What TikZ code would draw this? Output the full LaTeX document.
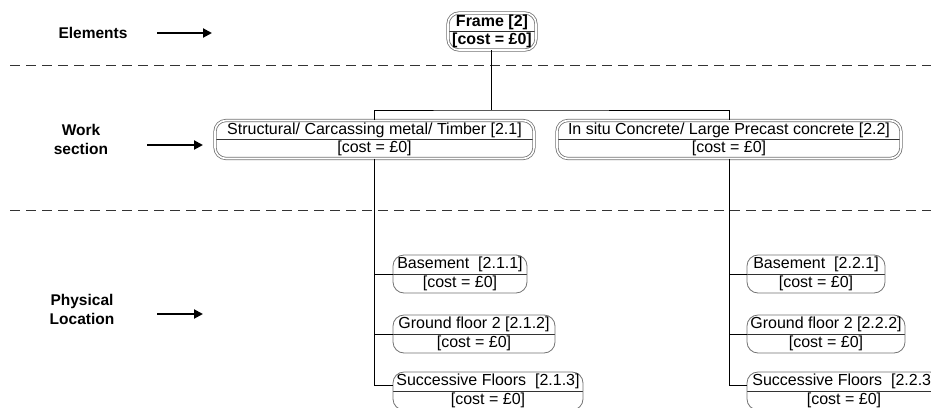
\documentclass[tikz,border=0pt]{standalone}
\usepackage{fontspec}
\setmainfont{Liberation Sans}
\usetikzlibrary{arrows.meta}
\newcommand\costtxt{{[}cost = £0{]}}
\tikzset{
  box/.style={rounded corners=11pt, draw=black!55, line width=0.8pt, inner sep=0pt,
    minimum height=38pt, align=center,
    font=\fontsize{16}{18.5}\selectfont,
    path picture={\draw[black!80, line width=0.7pt] (path picture bounding box.west) -- (path picture bounding box.east);}},
  dbox/.style={box, double, double distance=1.6pt},
  lbl/.style={font=\fontsize{15.5}{18.5}\selectfont\bfseries, align=center},
  pointer/.style={line width=2pt, -{Triangle[length=9pt,width=9pt]}},
  sep/.style={black!80, line width=0.9pt, dash pattern=on 10pt off 6pt},
  conn/.style={black, line width=0.9pt}
}
\begin{document}
\begin{tikzpicture}[x=1pt,y=-1pt]
\clip (0,0) rectangle (931,407);
\fill[white] (0,0) rectangle (931,407);

% separators
\draw[sep] (10,65) -- (931,65);
\draw[sep] (10,210) -- (931,210);

% left labels
\node[lbl] (lElem) at (93,33) {Elements};
\node[lbl] (lWork) at (81,139.5) {Work\\section};
\node[lbl] (lPhys) at (82,309.5) {Physical\\Location};
\coordinate (aE1) at (157,33); \coordinate (aE2) at (212,33);
\coordinate (aW1) at (147,145); \coordinate (aW2) at (203,145);
\coordinate (aP1) at (157,314); \coordinate (aP2) at (203,314);
\draw[pointer] (aE1) -- (aE2);
\draw[pointer] (aW1) -- (aW2);
\draw[pointer] (aP1) -- (aP2);

% nodes
\node[dbox, minimum width=88pt, minimum height=37pt, font=\fontsize{16}{18.5}\selectfont\bfseries] (frame) at (492,31.5) {Frame {[}2{]}\\\costtxt};
\node[dbox, minimum width=319pt] (wl) at (374.5,139.5) {Structural/ Carcassing metal/ Timber {[}2.1{]}\\\costtxt};
\node[dbox, minimum width=344pt] (wr) at (729,139.5) {In situ Concrete/ Large Precast concrete {[}2.2{]}\\\costtxt};

\node[box, minimum width=134pt] (bl) at (460,274) {Basement\ \ {[}2.1.1{]}\\\costtxt};
\node[box, minimum width=162pt] (gl) at (474,334) {Ground floor 2 {[}2.1.2{]}\\\costtxt};
\node[box, minimum width=190pt] (sl) at (488,391) {Successive Floors\ \ {[}2.1.3{]}\\\costtxt};

\node[box, minimum width=138pt] (br) at (816,274) {Basement\ \ {[}2.2.1{]}\\\costtxt};
\node[box, minimum width=158pt] (gr) at (826,334) {Ground floor 2 {[}2.2.2{]}\\\costtxt};
\node[box, minimum width=194pt] (sr) at (844,391) {Successive Floors\ \ {[}2.2.3{]}\\\costtxt};

% connectors
\coordinate (bus) at (491,110);
\draw[conn] (frame.south -| bus) -- (bus);
\draw[conn] (wl.north) |- (bus) -| (wr.north);
\draw[conn] (wl.south) |- (bl.west);
\draw[conn] (wl.south) |- (gl.west);
\draw[conn] (wl.south) |- ([yshift=6pt]sl.west);
\draw[conn] (wr.south) |- (br.west);
\draw[conn] (wr.south) |- (gr.west);
\draw[conn] (wr.south) |- ([yshift=6pt]sr.west);
\end{tikzpicture}
\end{document}
